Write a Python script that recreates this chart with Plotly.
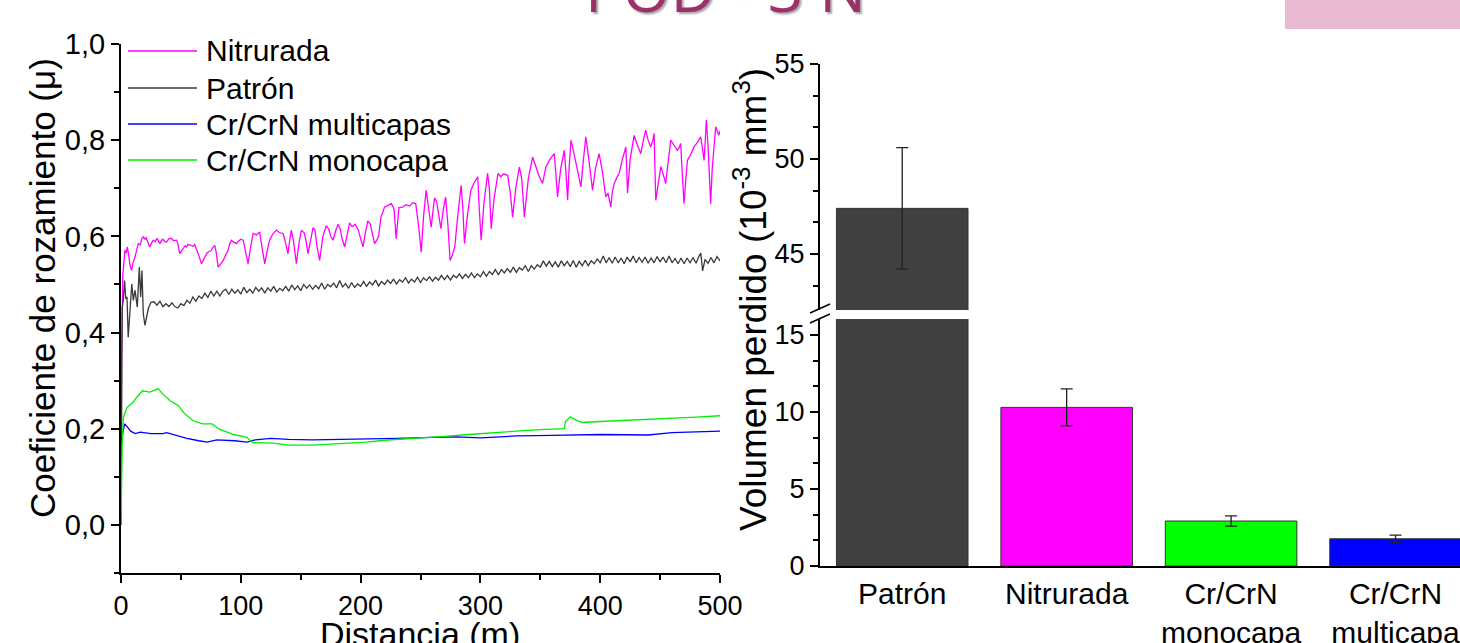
import plotly.graph_objects as go

# ---------------- data: friction coefficient vs distance ----------------
nit_d = [0, 0.5, 1.5, 3.3, 4.3, 5.3, 6.5, 7.5, 8.9, 10, 11.7, 13, 14.4, 16, 17.5, 18.6, 20, 21, 22.5, 24,
         25.5, 26.9, 28.5, 30, 31, 32.5, 34, 35, 36.5, 38, 40, 42, 44, 46.4, 47.5, 49, 50.5, 52, 53.5,
         54.7, 56, 58, 60, 61.5, 63, 65, 67.2, 69, 71.4, 73, 75, 76.5, 78.3, 79.5, 81.1, 83, 85.3, 87.5,
         89.4, 90.8, 92.2, 94, 96.4, 98, 100, 102, 104, 106.1, 108, 110.3, 113, 115.8, 117.5, 120, 122,
         124, 126.5, 129.7, 132, 135.3, 137, 139.4, 141, 142.2, 144, 146.4, 148.5, 150.6, 153, 154.5,
         156.1, 158.5, 160.3, 162, 163.5, 165.8, 168.5, 171.4, 173.5, 175, 177, 179, 181.1, 183, 184.5,
         186.7, 189, 190.8, 193, 195.5, 197.8, 200, 202, 204, 206, 208, 210, 211.7, 213, 215, 217, 220,
         222.5, 225.6, 227, 228, 229.7, 231, 232, 235, 238, 241, 243.5, 246, 248.5, 250.6, 252.5, 254.7,
         256.5, 258.9, 260.3, 261.7, 263.5, 265.5, 267, 269, 271, 273, 274.7, 276.5, 278.6, 281, 283.9,
         285.3, 286.7, 289, 292, 294.5, 297.8, 299, 300.6, 303, 306, 307.5, 309, 311.5, 314.7, 317,
         319.5, 322.8, 325, 326.9, 329.5, 332.5, 334.5, 336.7, 340, 343.6, 347, 349, 351.9, 354.7, 358,
         361.7, 363, 364.4, 367, 370, 371.5, 372.8, 374, 375.6, 377.5, 379.7, 381.5, 383.9, 386, 388,
         390.5, 393.6, 396, 399, 401.5, 404.7, 406.5, 408.9, 410, 411.7, 413.5, 415.8, 418.5, 421.4,
         422.1, 422.8, 425, 428.3, 431, 433.9, 436, 438, 440, 442.2, 444, 445, 445.7, 446.4, 448.5,
         450.6, 452.5, 454.7, 456.5, 458.9, 461.5, 464.4, 466, 467.2, 468.5, 470, 471.5, 472.8, 475.5,
         478.3, 481, 483.9, 485.5, 486.7, 487.7, 488.6, 490, 491.2, 492.2, 493.5, 495, 496.4, 497.8,
         499, 500]
nit_v = [0.0, 0.35, 0.52, 0.571, 0.565, 0.578, 0.56, 0.54, 0.529, 0.545, 0.557, 0.572, 0.585, 0.582,
         0.596, 0.599, 0.594, 0.597, 0.588, 0.578, 0.586, 0.592, 0.589, 0.596, 0.591, 0.585, 0.592, 0.594,
         0.589, 0.588, 0.595, 0.596, 0.591, 0.592, 0.585, 0.564, 0.57, 0.574, 0.58, 0.578, 0.583, 0.582,
         0.579, 0.583, 0.574, 0.56, 0.543, 0.552, 0.564, 0.568, 0.57, 0.576, 0.581, 0.566, 0.536, 0.542,
         0.55, 0.562, 0.571, 0.585, 0.592, 0.588, 0.585, 0.59, 0.594, 0.592, 0.57, 0.543, 0.575, 0.606,
         0.603, 0.609, 0.58, 0.543, 0.57, 0.592, 0.604, 0.613, 0.608, 0.606, 0.59, 0.564, 0.595, 0.613,
         0.59, 0.543, 0.585, 0.613, 0.607, 0.59, 0.564, 0.6, 0.618, 0.612, 0.58, 0.55, 0.6, 0.622, 0.615,
         0.6, 0.592, 0.61, 0.625, 0.615, 0.595, 0.578, 0.61, 0.628, 0.62, 0.625, 0.615, 0.598, 0.578,
         0.608, 0.632, 0.626, 0.6, 0.585, 0.59, 0.6, 0.64, 0.661, 0.664, 0.668, 0.662, 0.655, 0.595, 0.64,
         0.66, 0.661, 0.666, 0.663, 0.67, 0.668, 0.62, 0.567, 0.64, 0.696, 0.66, 0.619, 0.65, 0.68, 0.672,
         0.64, 0.616, 0.655, 0.682, 0.62, 0.55, 0.56, 0.578, 0.64, 0.706, 0.66, 0.585, 0.64, 0.696, 0.71,
         0.724, 0.66, 0.592, 0.67, 0.731, 0.7, 0.616, 0.68, 0.731, 0.724, 0.73, 0.727, 0.69, 0.64, 0.7,
         0.744, 0.72, 0.64, 0.72, 0.765, 0.74, 0.725, 0.71, 0.745, 0.76, 0.772, 0.73, 0.682, 0.74, 0.779,
         0.73, 0.675, 0.74, 0.8, 0.78, 0.752, 0.73, 0.703, 0.76, 0.807, 0.76, 0.696, 0.74, 0.772, 0.74,
         0.682, 0.69, 0.661, 0.69, 0.71, 0.72, 0.731, 0.76, 0.786, 0.74, 0.69, 0.76, 0.81, 0.79, 0.772,
         0.8, 0.821, 0.8, 0.786, 0.8, 0.814, 0.74, 0.675, 0.71, 0.745, 0.73, 0.71, 0.75, 0.8, 0.79, 0.779,
         0.785, 0.793, 0.73, 0.668, 0.72, 0.758, 0.77, 0.786, 0.795, 0.807, 0.78, 0.758, 0.8, 0.842, 0.79,
         0.72, 0.668, 0.74, 0.793, 0.828, 0.818, 0.81, 0.82]

pat_d = [0, 0.5, 1, 2, 3, 4, 5, 6, 7.5, 9, 10.3, 11.7, 13.6, 15.3, 16.4, 17.5, 18.6, 20, 22.8, 25,
         27.5, 30, 32.5, 35, 37.5, 40, 42.5, 45, 47.5, 50, 52.5, 55, 57.5, 60, 62.5, 65, 67.5, 70, 72.5,
         75, 77.5, 80, 82.5, 85, 87.5, 90, 92.5, 95, 97.5, 100, 102.5, 105, 107.5, 110, 112.5, 115, 117.5,
         120, 122.5, 125, 127.5, 130, 132.5, 135, 137.5, 140, 142.5, 145, 147.5, 150, 152.5, 155, 157.5,
         160, 162.5, 165, 167.5, 170, 172.5, 175, 177.5, 180, 182.5, 185, 187.5, 190, 192.5, 195, 197.5,
         200, 202.5, 205, 207.5, 210, 212.5, 215, 217.5, 220, 222.5, 225, 227.5, 230, 232.5, 235, 237.5,
         240, 242.5, 245, 247.5, 250, 252.5, 255, 257.5, 260, 262.5, 265, 267.5, 270, 272.5, 275, 277.5,
         280, 282.5, 285, 287.5, 290, 292.5, 295, 297.5, 300, 302.5, 305, 307.5, 310, 312.5, 315, 317.5,
         320, 322.5, 325, 327.5, 330, 332.5, 335, 337.5, 340, 342.5, 345, 347.5, 350, 352.5, 355, 357.5,
         360, 362.5, 365, 367.5, 370, 372.5, 375, 377.5, 380, 382.5, 385, 387.5, 390, 392.5, 395, 397.5,
         400, 402.5, 405, 407.5, 410, 412.5, 415, 417.5, 420, 422.5, 425, 427.5, 430, 432.5, 435, 437.5,
         440, 442.5, 445, 447.5, 450, 452.5, 455, 457.5, 460, 462.5, 465, 467.5, 470, 472.5, 475, 477.5,
         480, 482.5, 484, 485.5, 487.5, 490, 492.5, 495, 497.5, 500]
pat_v = [0.0, 0.30, 0.45, 0.47, 0.508, 0.47, 0.474, 0.39, 0.453, 0.501, 0.467, 0.488, 0.453, 0.536,
         0.474, 0.529, 0.439, 0.415, 0.45, 0.463,
         0.464, 0.457, 0.465, 0.454, 0.460, 0.454, 0.462, 0.454, 0.451, 0.460, 0.456, 0.467, 0.461, 0.474,
         0.465, 0.476, 0.471, 0.482, 0.473, 0.486, 0.476, 0.486, 0.476, 0.486, 0.490, 0.479, 0.490, 0.482,
         0.489, 0.480, 0.494, 0.483, 0.490, 0.482, 0.494, 0.486, 0.493, 0.482, 0.493, 0.486, 0.496, 0.484,
         0.492, 0.487, 0.496, 0.486, 0.499, 0.489, 0.497, 0.487, 0.500, 0.492, 0.499, 0.490, 0.498, 0.491,
         0.503, 0.490, 0.500, 0.495, 0.503, 0.493, 0.508, 0.495, 0.502, 0.492, 0.504, 0.494, 0.501, 0.496,
         0.506, 0.496, 0.505, 0.499, 0.509, 0.497, 0.506, 0.500, 0.509, 0.502, 0.511, 0.501, 0.510, 0.505,
         0.514, 0.503, 0.511, 0.505, 0.515, 0.504, 0.514, 0.508, 0.516, 0.507, 0.515, 0.509, 0.519, 0.510,
         0.519, 0.509, 0.519, 0.514, 0.522, 0.512, 0.521, 0.514, 0.524, 0.514, 0.522, 0.516, 0.527, 0.517,
         0.527, 0.521, 0.531, 0.520, 0.531, 0.524, 0.533, 0.525, 0.536, 0.525, 0.535, 0.530, 0.539, 0.527,
         0.539, 0.532, 0.541, 0.536, 0.549, 0.538, 0.548, 0.537, 0.547, 0.536, 0.549, 0.539, 0.548, 0.537,
         0.550, 0.536, 0.548, 0.539, 0.550, 0.539, 0.549, 0.543, 0.553, 0.545, 0.559, 0.545, 0.556, 0.544,
         0.557, 0.545, 0.555, 0.543, 0.557, 0.547, 0.559, 0.545, 0.556, 0.546, 0.557, 0.544, 0.555, 0.545,
         0.558, 0.547, 0.557, 0.545, 0.559, 0.545, 0.554, 0.543, 0.555, 0.543, 0.555, 0.545, 0.556, 0.544,
         0.559, 0.565, 0.528, 0.552, 0.544, 0.556, 0.545, 0.558, 0.549]

mul_d = [0, 3, 5, 8, 12, 16, 25, 35, 38, 45, 55, 65, 72, 80, 95, 105, 112, 125, 140, 160, 200, 230,
         260, 280, 300, 330, 360, 400, 440, 460, 500]
mul_v = [0.17, 0.21, 0.205, 0.195, 0.19, 0.193, 0.19, 0.19, 0.192, 0.187, 0.18, 0.175, 0.172, 0.177,
         0.175, 0.172, 0.177, 0.18, 0.178, 0.177, 0.178, 0.18, 0.182, 0.183, 0.181, 0.185, 0.186, 0.188,
         0.187, 0.192, 0.195]

mon_d = [0, 1, 2, 5, 10, 13, 18, 24, 31, 35, 41, 48, 52, 60, 68, 76, 82, 94, 105, 110, 127, 140, 160,
         177, 195, 205, 220, 235, 250, 270, 290, 310, 330, 350, 370, 371, 375, 380, 385, 400, 420, 440,
         460, 480, 500]
mon_v = [0.0, 0.17, 0.224, 0.244, 0.255, 0.265, 0.279, 0.276, 0.283, 0.272, 0.258, 0.248, 0.234, 0.217,
         0.21, 0.21, 0.199, 0.188, 0.182, 0.171, 0.17, 0.166, 0.166, 0.168, 0.17, 0.172, 0.176, 0.178,
         0.181, 0.184, 0.188, 0.192, 0.195, 0.198, 0.2, 0.215, 0.225, 0.218, 0.213, 0.215, 0.217, 0.219,
         0.221, 0.224, 0.227]

series_names = ["Nitrurada", "Patrón", "Cr/CrN multicapas", "Cr/CrN monocapa"]
series_colors = ["#FF00FF", "#3A3A3A", "#0000FF", "#00EE00"]

# ---------------- data: lost volume bars ----------------
bar_cats = ["Patrón", "Nitrurada", "Cr/CrN<br>monocapa", "Cr/CrN<br>multicapa"]
bar_vals = [47.4, 10.3, 2.92, 1.77]
bar_errs = [3.2, 1.2, 0.33, 0.23]
bar_colors = ["#404040", "#FF00FF", "#00FF00", "#0000FF"]

FONT = "Liberation Sans, Arial, sans-serif"
W, H = 1460, 643


def px(x):
    return x / W


def py(y):
    return 1 - y / H


fig = go.Figure()

line_data = [(nit_d, nit_v), (pat_d, pat_v), (mul_d, mul_v), (mon_d, mon_v)]
for (xs, ys), name, col in zip(line_data, series_names, series_colors):
    fig.add_trace(go.Scatter(x=xs, y=ys, mode="lines", name=name, showlegend=False,
                             line=dict(color=col, width=1.3),
                             xaxis="x", yaxis="y"))

xi = list(range(len(bar_cats)))
for xa, ya in (("x2", "y2"), ("x3", "y3")):
    fig.add_trace(go.Bar(x=xi, y=bar_vals, width=0.8, showlegend=False,
                         marker=dict(color=bar_colors, line=dict(color="#333333", width=1)),
                         error_y=dict(type="data", array=bar_errs, visible=True,
                                      color="#222222", thickness=1.3, width=6),
                         xaxis=xa, yaxis=ya))

minor_kw = dict(ticks="outside", ticklen=5, tickwidth=1.5, tickcolor="black")
axis_common = dict(showgrid=False, zeroline=False, showline=True, linecolor="black", linewidth=2,
                   ticks="outside", ticklen=8, tickwidth=1.5, tickcolor="black", automargin=False,
                   tickfont=dict(family=FONT, size=27, color="black"))

fig.update_layout(
    width=W, height=H, margin=dict(l=0, r=0, t=0, b=0, autoexpand=False),
    paper_bgcolor="white", plot_bgcolor="white", separators=",.",
    showlegend=False,
    xaxis=dict(domain=[px(121), px(720)], range=[0, 500], anchor="y",
               tick0=0, dtick=100, minor=dict(dtick=50, **minor_kw), **axis_common),
    yaxis=dict(domain=[py(573), py(44)], range=[-0.1, 1.0], anchor="x",
               tick0=0, dtick=0.2, tickformat=".1f", minor=dict(dtick=0.1, **minor_kw),
               **{**axis_common, "tickfont": dict(family=FONT, size=29, color="black")}),
    xaxis2=dict(domain=[px(820), 1.0], range=[-0.5, 3.392], anchor="y2",
                tickvals=xi, ticktext=bar_cats, showgrid=False, zeroline=False, automargin=False,
                showline=True, linecolor="black", linewidth=2, ticks="",
                ticklabeloverflow="allow",
                tickfont=dict(family=FONT, size=30, color="black")),
    yaxis2=dict(domain=[py(566), py(319)], range=[0, 16.04], anchor="x2",
                tick0=0, dtick=5, minor=dict(dtick=5 / 3, **minor_kw), **axis_common),
    xaxis3=dict(domain=[px(820), 1.0], range=[-0.5, 3.392], anchor="y3",
                visible=False, automargin=False),
    yaxis3=dict(domain=[py(310), py(64)], range=[42.05, 55], anchor="x3",
                tick0=45, dtick=5, minor=dict(dtick=5 / 3, **minor_kw), **axis_common),
)

# legend (drawn as text + sample lines, positioned like the original)
legend_rows = [51, 88, 124, 160]
for name, col, yr in zip(series_names, series_colors, legend_rows):
    fig.add_shape(type="line", xref="paper", yref="paper",
                  x0=px(128), x1=px(197), y0=py(yr), y1=py(yr),
                  line=dict(color=col, width=1.3))
    fig.add_annotation(text=name, xref="paper", yref="paper", x=px(204), y=py(yr),
                       xanchor="left", yanchor="middle", showarrow=False,
                       font=dict(family=FONT, size=30, color="black"))

# axis break marks on the bar chart y axis
for y0 in (313, 323):
    fig.add_shape(type="line", xref="paper", yref="paper",
                  x0=px(810), y0=py(y0), x1=px(830), y1=py(y0 - 9),
                  line=dict(color="black", width=1.5))

# pink decoration top-right
fig.add_shape(type="rect", xref="paper", yref="paper",
              x0=px(1285), x1=1.0, y0=py(29), y1=1.0,
              fillcolor="#E8BBD3", line=dict(width=0), layer="below")

# titles
fig.add_annotation(text="POD - 3 N", xref="paper", yref="paper", x=px(725), y=py(32),
                   xanchor="center", yanchor="bottom", showarrow=False,
                   font=dict(family="Open Sans, sans-serif", size=62, color="#9C3068",
                             shadow="2px 2px 2px rgba(0,0,0,0.35)"))
fig.add_annotation(text="Distancia (m)", xref="paper", yref="paper", x=px(420), y=py(613),
                   xanchor="center", yanchor="top", showarrow=False,
                   font=dict(family=FONT, size=34, color="black"))
fig.add_annotation(text="Coeficiente de rozamiento (μ)", xref="paper", yref="paper",
                   x=px(42), y=py(288), xanchor="center", yanchor="middle", textangle=-90,
                   showarrow=False, font=dict(family=FONT, size=35, color="black"))
fig.add_annotation(text="Volumen perdido (10<sup>-3</sup> mm<sup>3</sup>)", xref="paper", yref="paper",
                   x=px(750), y=py(300), xanchor="center", yanchor="middle", textangle=-90,
                   showarrow=False, font=dict(family=FONT, size=37, color="black"))

fig.write_html("out.html",
               config={"displayModeBar": False},
               post_script="document.body.style.margin='0px';"
                           "document.documentElement.style.overflow='hidden';")
